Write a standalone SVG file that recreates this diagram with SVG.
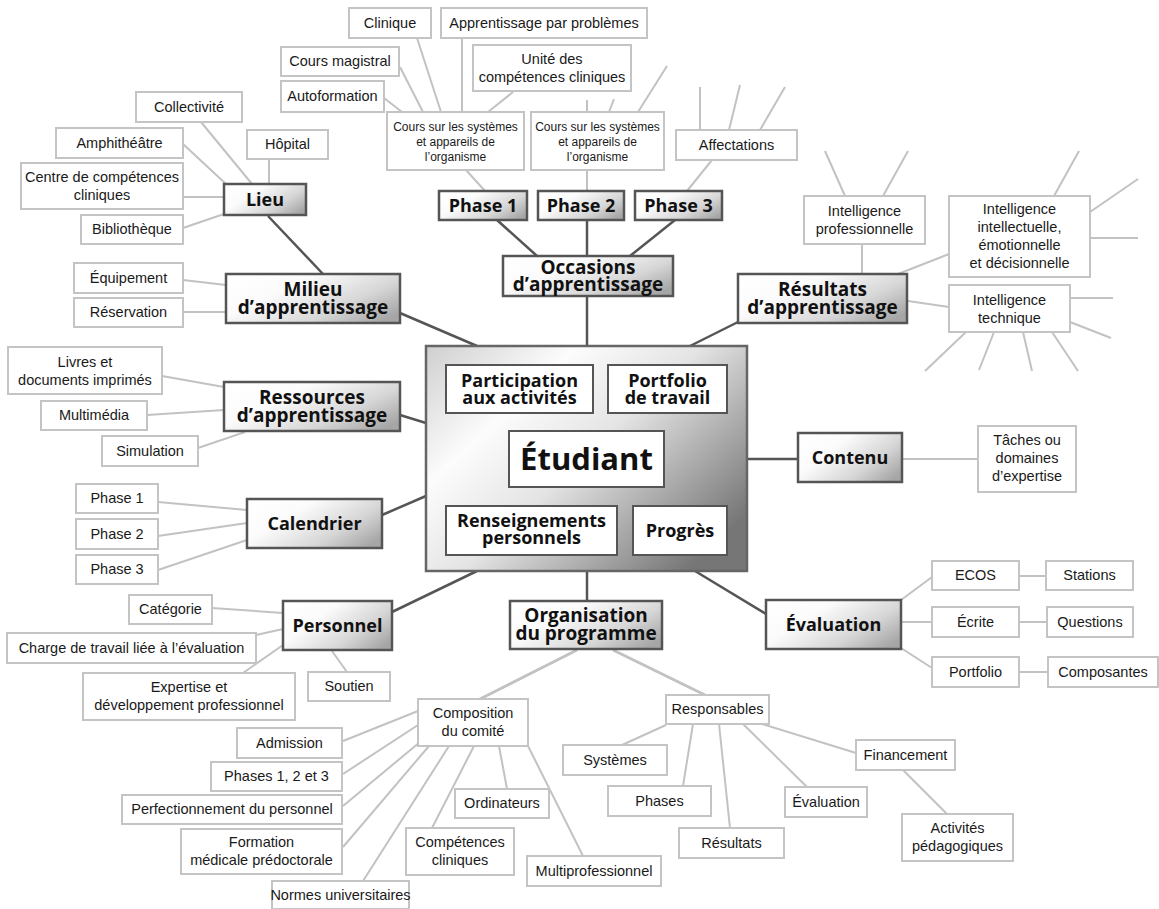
<svg xmlns="http://www.w3.org/2000/svg" width="1159" height="909" viewBox="0 0 1159 909">
<defs>
<linearGradient id="g" x1="0" y1="0.2" x2="1" y2="0.8">
<stop offset="0" stop-color="#ffffff"/>
<stop offset="0.3" stop-color="#fbfbfb"/>
<stop offset="0.7" stop-color="#d6d6d6"/>
<stop offset="1" stop-color="#a6a6a6"/>
</linearGradient>
<linearGradient id="gc" x1="0" y1="0" x2="1" y2="0.75">
<stop offset="0" stop-color="#cfcfcf"/>
<stop offset="0.3" stop-color="#fcfcfc"/>
<stop offset="0.55" stop-color="#e4e4e4"/>
<stop offset="1" stop-color="#767676"/>
</linearGradient>
<style>
.m{fill:url(#g);stroke:#555;stroke-width:2.5}
.c{fill:url(#gc);stroke:#666;stroke-width:2.5}
.w{fill:#fff;stroke:#555;stroke-width:2}
.s{fill:#fff;stroke:#c4c4c4;stroke-width:2}
.dk line{stroke:#555;stroke-width:2.5}
.lt line{stroke:#c2c2c2;stroke-width:2}
.lt line.th{stroke-width:3}
.tb{font-family:"Open Sans","Liberation Sans",sans-serif;font-weight:700;font-size:18px;text-anchor:middle;fill:#111}
.tb2{font-size:19px}
.t{font-family:"Liberation Sans",Arial,sans-serif;font-size:14.5px;text-anchor:middle;fill:#1a1a1a}
.ts{font-size:12px}
</style>
</defs>
<rect width="1159" height="909" fill="#fff"/>
<g id="connectors">
<g class="lt">
<line x1="384" y1="98" x2="402" y2="112"/>
<line x1="400" y1="67" x2="423" y2="112"/>
<line x1="417" y1="38" x2="441" y2="112"/>
<line x1="462" y1="38" x2="462" y2="112"/>
<line x1="513" y1="92" x2="488" y2="112"/>
<line x1="466" y1="170" x2="485" y2="191"/>
<line x1="587" y1="100" x2="587" y2="112"/>
<line x1="614" y1="99" x2="609" y2="112"/>
<line x1="667" y1="66" x2="638" y2="112"/>
<line x1="587" y1="170" x2="587" y2="191"/>
<line x1="700" y1="87" x2="700" y2="130"/>
<line x1="740" y1="85" x2="729" y2="130"/>
<line x1="785" y1="87" x2="760" y2="130"/>
<line x1="712" y1="160" x2="687" y2="191"/>
<line x1="201" y1="122" x2="252" y2="184"/>
<line x1="183" y1="144" x2="226" y2="184"/>
<line x1="269" y1="159" x2="269" y2="184"/>
<line x1="183" y1="197" x2="224" y2="197"/>
<line x1="183" y1="228" x2="224" y2="214"/>
<line x1="183" y1="280" x2="226" y2="285"/>
<line x1="183" y1="312" x2="226" y2="312"/>
<line x1="862" y1="244" x2="862" y2="274"/>
<line x1="845" y1="196" x2="825" y2="151"/>
<line x1="883" y1="196" x2="908" y2="151"/>
<line x1="949" y1="254" x2="898" y2="274"/>
<line x1="1054" y1="196" x2="1079" y2="151"/>
<line x1="1090" y1="212" x2="1138" y2="179"/>
<line x1="1090" y1="238" x2="1138" y2="238"/>
<line x1="908" y1="301" x2="949" y2="307"/>
<line x1="1070" y1="298" x2="1113" y2="298"/>
<line x1="1070" y1="322" x2="1111" y2="338"/>
<line x1="966" y1="332" x2="925" y2="371"/>
<line x1="994" y1="332" x2="979" y2="370"/>
<line x1="1023" y1="332" x2="1032" y2="371"/>
<line x1="1052" y1="332" x2="1078" y2="371"/>
<line x1="902" y1="459" x2="978" y2="459"/>
<line x1="162" y1="376" x2="224" y2="387"/>
<line x1="147" y1="415" x2="224" y2="410"/>
<line x1="198" y1="448" x2="245" y2="432"/>
<line x1="158" y1="502" x2="247" y2="510"/>
<line x1="158" y1="536" x2="247" y2="523"/>
<line x1="158" y1="570" x2="247" y2="540"/>
<line x1="212" y1="608" x2="283" y2="613"/>
<line x1="256" y1="635" x2="283" y2="629"/>
<line x1="243" y1="673" x2="283" y2="645"/>
<line x1="332" y1="651" x2="347" y2="672"/>
<line x1="901" y1="600" x2="932" y2="577"/>
<line x1="901" y1="622" x2="932" y2="622"/>
<line x1="901" y1="648" x2="932" y2="668"/>
<line x1="1019" y1="576" x2="1046" y2="576"/>
<line x1="1019" y1="622" x2="1047" y2="622"/>
<line x1="1019" y1="672" x2="1048" y2="672"/>
<line class="th" x1="577" y1="650" x2="480" y2="699"/>
<line class="th" x1="613" y1="650" x2="705" y2="695"/>
<line x1="343" y1="741" x2="418" y2="711"/>
<line x1="343" y1="774" x2="418" y2="725"/>
<line x1="343" y1="806" x2="420" y2="742"/>
<line x1="343" y1="847" x2="429" y2="746"/>
<line x1="363" y1="881" x2="449" y2="746"/>
<line x1="474" y1="746" x2="432" y2="828"/>
<line x1="499" y1="746" x2="507" y2="789"/>
<line x1="528" y1="746" x2="583" y2="856"/>
<line x1="666" y1="725" x2="622" y2="745"/>
<line x1="693" y1="724" x2="683" y2="786"/>
<line x1="719" y1="724" x2="730" y2="828"/>
<line x1="743" y1="724" x2="807" y2="787"/>
<line x1="762" y1="724" x2="856" y2="753"/>
<line x1="903" y1="770" x2="947" y2="814"/>
</g>
<g class="dk">
<line x1="268" y1="216" x2="323" y2="274"/>
<line x1="400" y1="313" x2="477" y2="346"/>
<line x1="587" y1="296" x2="587" y2="346"/>
<line x1="738" y1="322" x2="690" y2="346"/>
<line x1="400" y1="415" x2="426" y2="423"/>
<line x1="382" y1="515" x2="426" y2="496"/>
<line x1="392" y1="612" x2="477" y2="571"/>
<line x1="587" y1="571" x2="587" y2="601"/>
<line x1="695" y1="571" x2="766" y2="614"/>
<line x1="747" y1="459" x2="798" y2="459"/>
<line x1="497" y1="220" x2="537" y2="256"/>
<line x1="587" y1="220" x2="587" y2="256"/>
<line x1="675" y1="220" x2="630" y2="256"/>
</g>
</g>
<g id="etudiant-groupe">
<rect class="c" x="426" y="346" width="321" height="225"/>
<g id="participation"><rect class="w" x="446" y="365" width="147" height="48"/><text class="tb" x="519.5" y="387">Participation</text><text class="tb" x="519.5" y="404">aux activités</text></g>
<g id="portfolio-travail"><rect class="w" x="608" y="365" width="119" height="48"/><text class="tb" x="667.5" y="387">Portfolio</text><text class="tb" x="667.5" y="404">de travail</text></g>
<g id="etudiant"><rect class="w" x="509" y="431" width="155" height="56"/><text class="tb" x="586.5" y="470" style="font-size:31px">Étudiant</text></g>
<g id="renseignements"><rect class="w" x="446" y="506" width="171" height="49"/><text class="tb" x="531.5" y="527">Renseignements</text><text class="tb" x="531.5" y="544">personnels</text></g>
<g id="progres"><rect class="w" x="633" y="506" width="94" height="49"/><text class="tb" x="680" y="537">Progrès</text></g>
</g>
<g id="lieu"><rect class="m" x="224" y="184" width="82" height="31"/><text class="tb" x="265" y="206">Lieu</text></g>
<g id="milieu"><rect class="m" x="226" y="274" width="174" height="49"/><text class="tb tb2" x="313" y="296">Milieu</text><text class="tb tb2" x="313" y="314">d’apprentissage</text></g>
<g id="occasions"><rect class="m" x="503" y="256" width="170" height="40"/><text class="tb tb2" x="588" y="274">Occasions</text><text class="tb tb2" x="588" y="291">d’apprentissage</text></g>
<g id="resultats"><rect class="m" x="738" y="274" width="169" height="49"/><text class="tb tb2" x="822.5" y="296">Résultats</text><text class="tb tb2" x="822.5" y="314">d’apprentissage</text></g>
<g id="ressources"><rect class="m" x="224" y="382" width="176" height="49"/><text class="tb tb2" x="312" y="404">Ressources</text><text class="tb tb2" x="312" y="422">d’apprentissage</text></g>
<g id="calendrier"><rect class="m" x="247" y="499" width="135" height="49"/><text class="tb" x="314.5" y="530">Calendrier</text></g>
<g id="personnel"><rect class="m" x="283" y="601" width="109" height="49"/><text class="tb" x="337.5" y="632">Personnel</text></g>
<g id="organisation"><rect class="m" x="510" y="601" width="152" height="48"/><text class="tb tb2" x="586" y="622">Organisation</text><text class="tb tb2" x="586" y="640">du programme</text></g>
<g id="evaluation"><rect class="m" x="766" y="600" width="135" height="49"/><text class="tb" x="833.5" y="631">Évaluation</text></g>
<g id="contenu"><rect class="m" x="798" y="433" width="104" height="49"/><text class="tb" x="850" y="464">Contenu</text></g>
<g id="phase1"><rect class="m" x="439" y="191" width="88" height="29"/><text class="tb" x="483" y="212">Phase 1</text></g>
<g id="phase2"><rect class="m" x="538" y="191" width="86" height="29"/><text class="tb" x="581" y="212">Phase 2</text></g>
<g id="phase3"><rect class="m" x="635" y="191" width="87" height="29"/><text class="tb" x="678.5" y="212">Phase 3</text></g>

<g id="clinique"><rect class="s" x="349" y="8" width="82" height="30"/><text class="t" x="390" y="28">Clinique</text></g>
<g id="app-problemes"><rect class="s" x="441" y="8" width="206" height="30"/><text class="t" x="544" y="28">Apprentissage par problèmes</text></g>
<g id="cours-magistral"><rect class="s" x="281" y="47" width="118" height="29"/><text class="t" x="340" y="66">Cours magistral</text></g>
<g id="autoformation"><rect class="s" x="281" y="81" width="103" height="31"/><text class="t" x="332.5" y="101">Autoformation</text></g>
<g id="unite"><rect class="s" x="473" y="45" width="158" height="46"/><text class="t" x="552" y="64">Unité des</text><text class="t" x="552" y="82">compétences cliniques</text></g>
<g id="cours1"><rect class="s" x="387" y="112" width="137" height="58"/><text class="t ts" x="455.5" y="131">Cours sur les systèmes</text><text class="t ts" x="455.5" y="146">et appareils de</text><text class="t ts" x="455.5" y="161">l’organisme</text></g>
<g id="cours2"><rect class="s" x="531" y="112" width="133" height="58"/><text class="t ts" x="597.5" y="131">Cours sur les systèmes</text><text class="t ts" x="597.5" y="146">et appareils de</text><text class="t ts" x="597.5" y="161">l’organisme</text></g>
<g id="affectations"><rect class="s" x="676" y="130" width="121" height="30"/><text class="t" x="736.5" y="150">Affectations</text></g>
<g id="collectivite"><rect class="s" x="136" y="92" width="106" height="30"/><text class="t" x="189" y="112">Collectivité</text></g>
<g id="amphitheatre"><rect class="s" x="56" y="128" width="127" height="30"/><text class="t" x="119.5" y="148">Amphithéâtre</text></g>
<g id="hopital"><rect class="s" x="247" y="130" width="81" height="29"/><text class="t" x="287.5" y="149">Hôpital</text></g>
<g id="centre"><rect class="s" x="21" y="163" width="162" height="46"/><text class="t" x="102" y="182">Centre de compétences</text><text class="t" x="102" y="200">cliniques</text></g>
<g id="bibliotheque"><rect class="s" x="81" y="215" width="102" height="29"/><text class="t" x="132" y="234">Bibliothèque</text></g>
<g id="equipement"><rect class="s" x="74" y="263" width="109" height="30"/><text class="t" x="128.5" y="283">Équipement</text></g>
<g id="reservation"><rect class="s" x="74" y="298" width="109" height="29"/><text class="t" x="128.5" y="317">Réservation</text></g>
<g id="int-pro"><rect class="s" x="804" y="196" width="121" height="48"/><text class="t" x="864.5" y="216">Intelligence</text><text class="t" x="864.5" y="234">professionnelle</text></g>
<g id="int-intel"><rect class="s" x="949" y="196" width="141" height="81"/><text class="t" x="1019.5" y="214">Intelligence</text><text class="t" x="1019.5" y="232">intellectuelle,</text><text class="t" x="1019.5" y="250">émotionnelle</text><text class="t" x="1019.5" y="268">et décisionnelle</text></g>
<g id="int-tech"><rect class="s" x="949" y="285" width="121" height="47"/><text class="t" x="1009.5" y="305">Intelligence</text><text class="t" x="1009.5" y="323">technique</text></g>
<g id="taches"><rect class="s" x="978" y="426" width="98" height="66"/><text class="t" x="1027" y="445">Tâches ou</text><text class="t" x="1027" y="463">domaines</text><text class="t" x="1027" y="481">d’expertise</text></g>
<g id="livres"><rect class="s" x="8" y="347" width="154" height="47"/><text class="t" x="85" y="367">Livres et</text><text class="t" x="85" y="385">documents imprimés</text></g>
<g id="multimedia"><rect class="s" x="41" y="401" width="106" height="29"/><text class="t" x="94" y="420">Multimédia</text></g>
<g id="simulation"><rect class="s" x="102" y="436" width="96" height="30"/><text class="t" x="150" y="456">Simulation</text></g>
<g id="cal-phase1"><rect class="s" x="76" y="484" width="82" height="29"/><text class="t" x="117" y="503">Phase 1</text></g>
<g id="cal-phase2"><rect class="s" x="76" y="519" width="82" height="30"/><text class="t" x="117" y="539">Phase 2</text></g>
<g id="cal-phase3"><rect class="s" x="76" y="555" width="82" height="29"/><text class="t" x="117" y="574">Phase 3</text></g>
<g id="categorie"><rect class="s" x="129" y="595" width="83" height="29"/><text class="t" x="170.5" y="614">Catégorie</text></g>
<g id="charge"><rect class="s" x="7" y="633" width="249" height="30"/><text class="t" x="131.5" y="653">Charge de travail liée à l’évaluation</text></g>
<g id="expertise"><rect class="s" x="83" y="673" width="212" height="47"/><text class="t" x="189" y="692">Expertise et</text><text class="t" x="189" y="710">développement professionnel</text></g>
<g id="soutien"><rect class="s" x="308" y="672" width="82" height="29"/><text class="t" x="349" y="691">Soutien</text></g>
<g id="ecos"><rect class="s" x="932" y="561" width="87" height="29"/><text class="t" x="975.5" y="580">ECOS</text></g>
<g id="stations"><rect class="s" x="1046" y="561" width="87" height="29"/><text class="t" x="1089.5" y="580">Stations</text></g>
<g id="ecrite"><rect class="s" x="932" y="607" width="87" height="30"/><text class="t" x="975.5" y="627">Écrite</text></g>
<g id="questions"><rect class="s" x="1047" y="607" width="86" height="30"/><text class="t" x="1090" y="627">Questions</text></g>
<g id="portfolio"><rect class="s" x="932" y="657" width="87" height="30"/><text class="t" x="975.5" y="677">Portfolio</text></g>
<g id="composantes"><rect class="s" x="1048" y="657" width="110" height="30"/><text class="t" x="1103" y="677">Composantes</text></g>
<g id="composition"><rect class="s" x="418" y="699" width="110" height="47"/><text class="t" x="473" y="718">Composition</text><text class="t" x="473" y="736">du comité</text></g>
<g id="responsables"><rect class="s" x="666" y="695" width="103" height="29"/><text class="t" x="717.5" y="714">Responsables</text></g>
<g id="admission"><rect class="s" x="237" y="728" width="105" height="30"/><text class="t" x="289.5" y="748">Admission</text></g>
<g id="phases123"><rect class="s" x="211" y="762" width="131" height="29"/><text class="t" x="276.5" y="781">Phases 1, 2 et 3</text></g>
<g id="perfectionnement"><rect class="s" x="122" y="795" width="220" height="29"/><text class="t" x="232" y="814">Perfectionnement du personnel</text></g>
<g id="formation"><rect class="s" x="181" y="829" width="161" height="45"/><text class="t" x="261.5" y="847">Formation</text><text class="t" x="261.5" y="865">médicale prédoctorale</text></g>
<g id="normes"><rect class="s" x="272" y="881" width="137" height="28"/><text class="t" x="340.5" y="900">Normes universitaires</text></g>
<g id="ordinateurs"><rect class="s" x="455" y="789" width="94" height="29"/><text class="t" x="502" y="808">Ordinateurs</text></g>
<g id="competences"><rect class="s" x="406" y="828" width="108" height="47"/><text class="t" x="460" y="847">Compétences</text><text class="t" x="460" y="865">cliniques</text></g>
<g id="multiprofessionnel"><rect class="s" x="527" y="856" width="134" height="30"/><text class="t" x="594" y="876">Multiprofessionnel</text></g>
<g id="systemes"><rect class="s" x="563" y="745" width="104" height="30"/><text class="t" x="615" y="765">Systèmes</text></g>
<g id="phases"><rect class="s" x="608" y="786" width="103" height="30"/><text class="t" x="659.5" y="806">Phases</text></g>
<g id="resultats-resp"><rect class="s" x="679" y="828" width="105" height="30"/><text class="t" x="731.5" y="848">Résultats</text></g>
<g id="evaluation-resp"><rect class="s" x="785" y="787" width="82" height="30"/><text class="t" x="826" y="807">Évaluation</text></g>
<g id="financement"><rect class="s" x="856" y="740" width="99" height="30"/><text class="t" x="905.5" y="760">Financement</text></g>
<g id="activites"><rect class="s" x="902" y="814" width="111" height="47"/><text class="t" x="957.5" y="833">Activités</text><text class="t" x="957.5" y="851">pédagogiques</text></g>
</svg>
